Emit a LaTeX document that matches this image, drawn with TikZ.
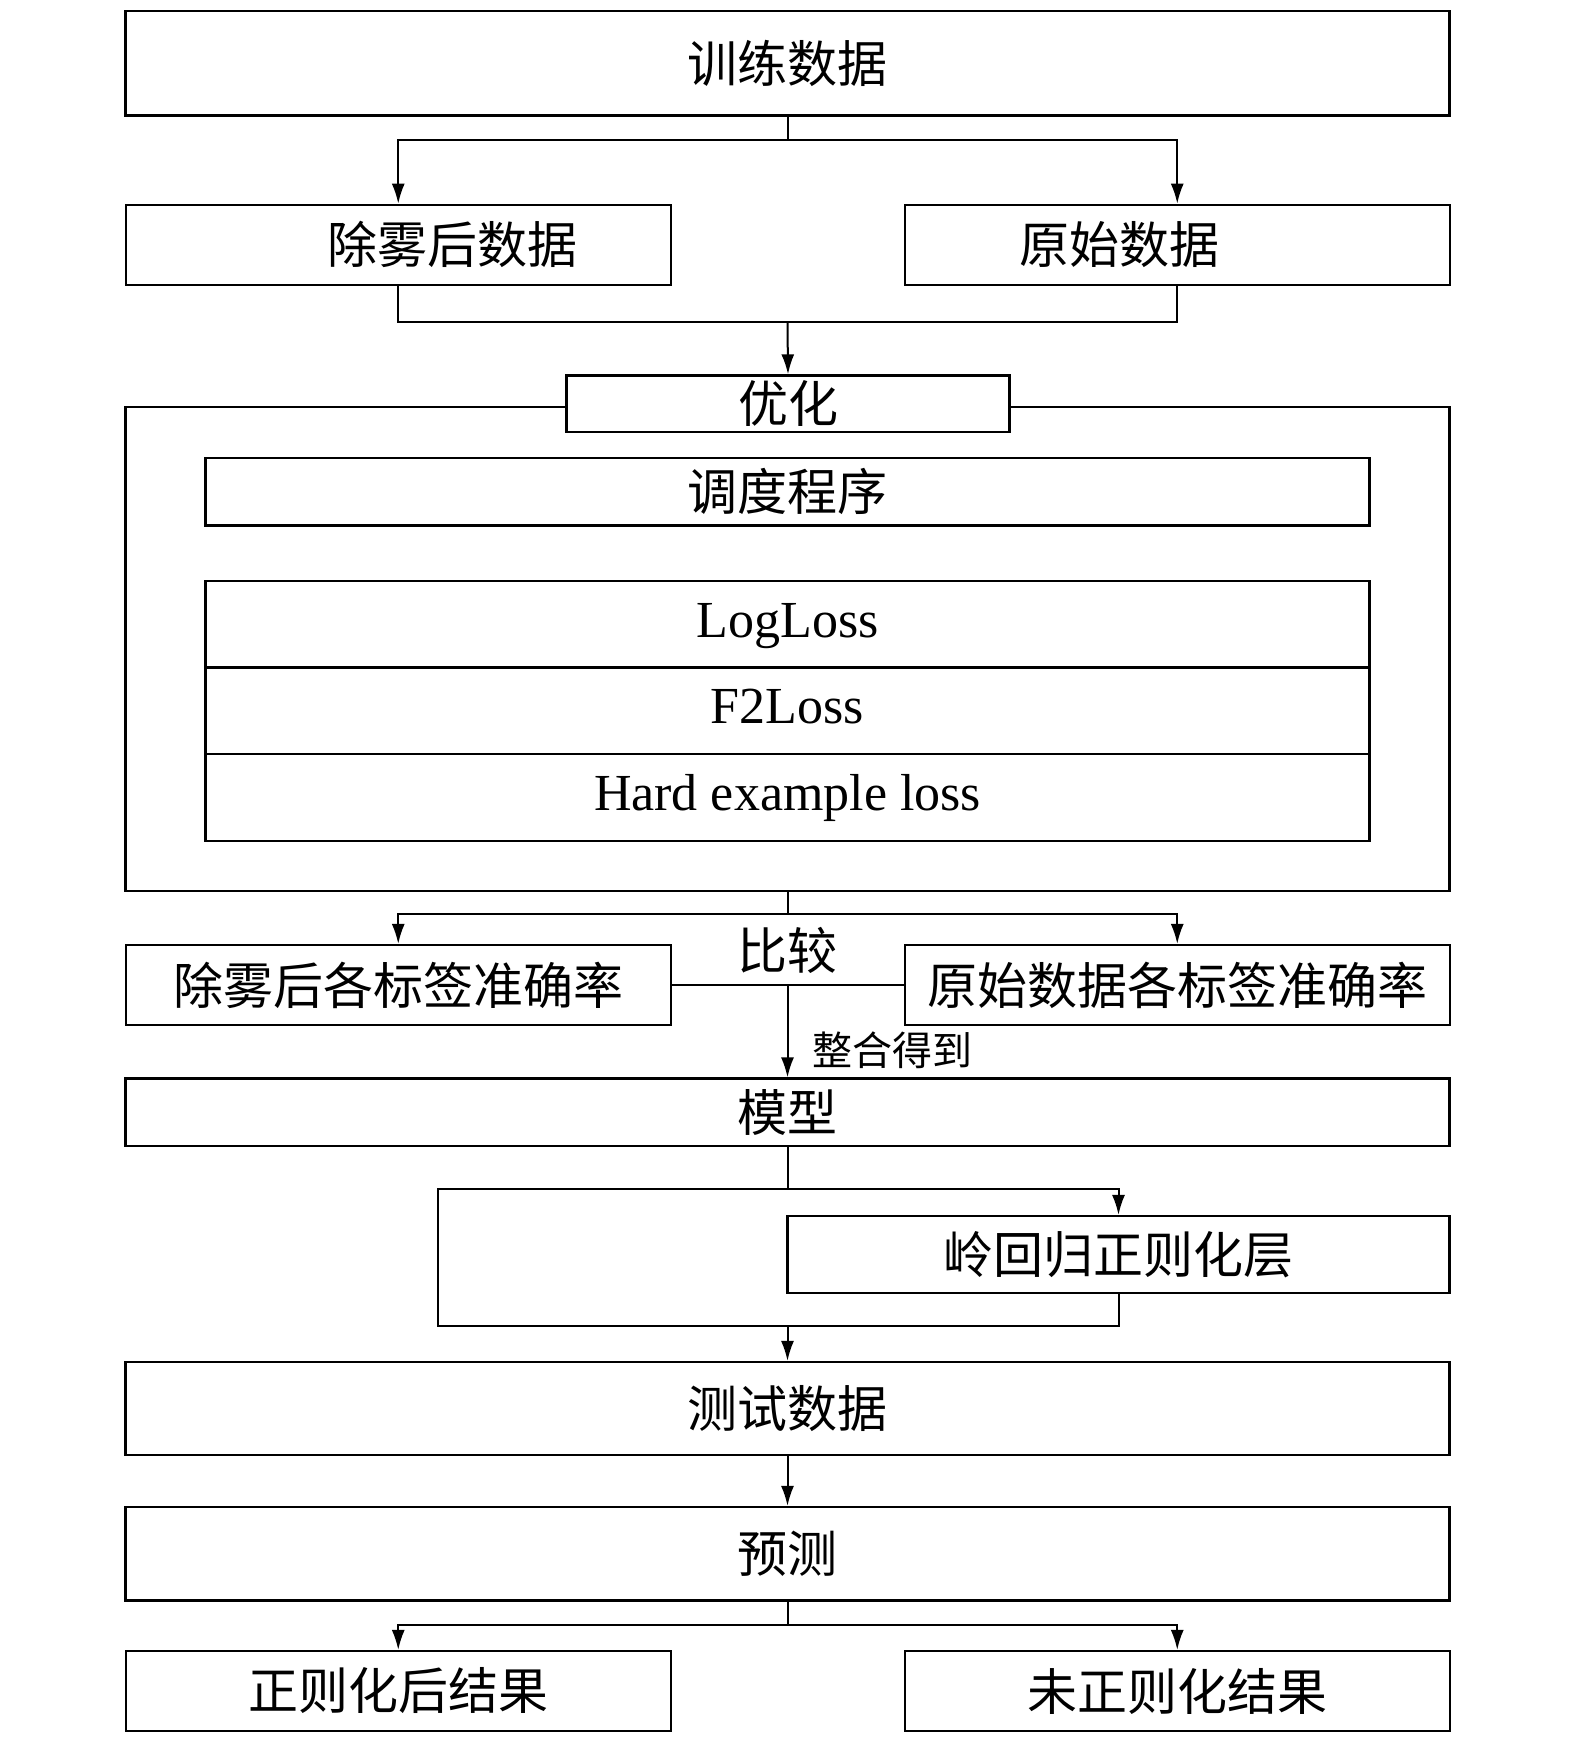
\documentclass[tikz,border=0pt]{standalone}
\usepackage{fontspec}
\setmainfont{Liberation Serif}
\newfontfamily\cjk{Noto Sans CJK SC}
\usetikzlibrary{arrows.meta}
\tikzstyle{flowChart} = [x = .5pt, y = -.5pt]
\tikzstyle{boxStyle} = [draw=black, fill=white, line width=1.1pt, inner sep=0pt, font=\cjk\fontsize{25}{30}\selectfont]
\tikzstyle{wideBox} = [boxStyle, minimum width=662pt]
\tikzstyle{halfBox} = [boxStyle, minimum width=272.5pt, minimum height=40pt]
\tikzstyle{lossBox} = [boxStyle, minimum width=582pt, minimum height=43.3pt, text height=18pt, text depth=5pt, font=\fontsize{26}{30}\selectfont]
\tikzstyle{flowLine} = [line width=1pt]
\tikzstyle{flowArrow} = [flowLine, -{Latex[length=10pt,width=6.5pt]}]
\tikzstyle{plainText} = [inner sep=0pt, font=\cjk\fontsize{25}{30}\selectfont]
\tikzstyle{smallText} = [inner sep=0pt, font=\cjk\fontsize{20}{24}\selectfont]
\newcommand{\midX}{787.5}

\begin{document}
\begin{tikzpicture}[flowChart]
  \useasboundingbox (0,0) rectangle (1575,1742);
  % data
  \node [wideBox, minimum height=52.25pt] (train) at (\midX, 63.25) {训练数据};
  \node [halfBox] (dehaze) at (398.25, 244.75) {\hspace*{54pt}除雾后数据};
  \node [halfBox] (orig) at (1177.25, 244.75) {原始数据\hspace*{58pt}};
  \coordinate (split1) at (\midX, 140);
  \coordinate (join1) at (\midX, 322);
  \draw [flowLine] (train.south) -- (split1);
  \draw [flowArrow] (split1) -| (dehaze.north);
  \draw [flowArrow] (split1) -| (orig.north);
  \draw [flowLine] (dehaze.south) |- (join1) -| (orig.south);

  % optimisation frame
  \node [wideBox, minimum height=242pt] (frame) at (\midX, 648.6) {};
  \node [boxStyle, minimum width=221.5pt, minimum height=28.3pt] (opt) at (788, 403.7) {优化};
  \draw [flowArrow] (join1) -- (opt.north);
  \node [boxStyle, minimum width=582pt, minimum height=33.9pt] (sched) at (\midX, 491.5) {调度程序};
  \node [lossBox] (logLoss) at (\midX, 624.3) {LogLoss};
  \node [lossBox] (f2Loss) at (\midX, 710.8) {F2Loss};
  \node [lossBox] (hardLoss) at (\midX, 797.4) {Hard example loss};

  % compare
  \node [halfBox] (dehazeAcc) at (398.25, 985) {除雾后各标签准确率};
  \node [halfBox] (origAcc) at (1177.25, 985) {原始数据各标签准确率};
  \node [plainText] (compare) at (\midX, 950) {比较};
  \coordinate (split2) at (\midX, 914);
  \draw [flowLine] (frame.south) -- (split2);
  \draw [flowArrow] (split2) -| (dehazeAcc.north);
  \draw [flowArrow] (split2) -| (origAcc.north);
  \draw [flowLine] (dehazeAcc.east) -- (origAcc.west);

  % model
  \node [wideBox, minimum height=33.75pt] (model) at (\midX, 1112.25) {模型};
  \draw [flowArrow] (model.north |- dehazeAcc.east) -- (model.north);
  \node [smallText, anchor=west] (mergeText) at (812, 1050) {整合得到};

  % ridge layer
  \node [boxStyle, minimum width=331pt, minimum height=38.5pt] (ridge) at (1118.5, 1254.5) {岭回归正则化层};
  \coordinate (split3) at (\midX, 1188.5);
  \coordinate (bypassTop) at (437.6, 1188.5);
  \coordinate (bypassBottom) at (437.6, 1326);
  \coordinate (join3) at (\midX, 1326);
  \draw [flowLine] (model.south) -- (split3);
  \draw [flowArrow] (split3) -| (ridge.north);
  \draw [flowLine] (split3) -- (bypassTop) -- (bypassBottom) -| (ridge.south);

  % test and predict
  \node [wideBox, minimum height=46.5pt] (test) at (\midX, 1408.5) {测试数据};
  \node [wideBox, minimum height=46.75pt] (predict) at (\midX, 1553.75) {预测};
  \draw [flowArrow] (join3) -- (test.north);
  \draw [flowArrow] (test.south) -- (predict.north);

  % results
  \node [halfBox] (regResult) at (398.25, 1691) {正则化后结果};
  \node [halfBox] (rawResult) at (1177.25, 1691) {未正则化结果};
  \coordinate (split4) at (\midX, 1625);
  \draw [flowLine] (predict.south) -- (split4);
  \draw [flowArrow] (split4) -| (regResult.north);
  \draw [flowArrow] (split4) -| (rawResult.north);
\end{tikzpicture}
\end{document}
